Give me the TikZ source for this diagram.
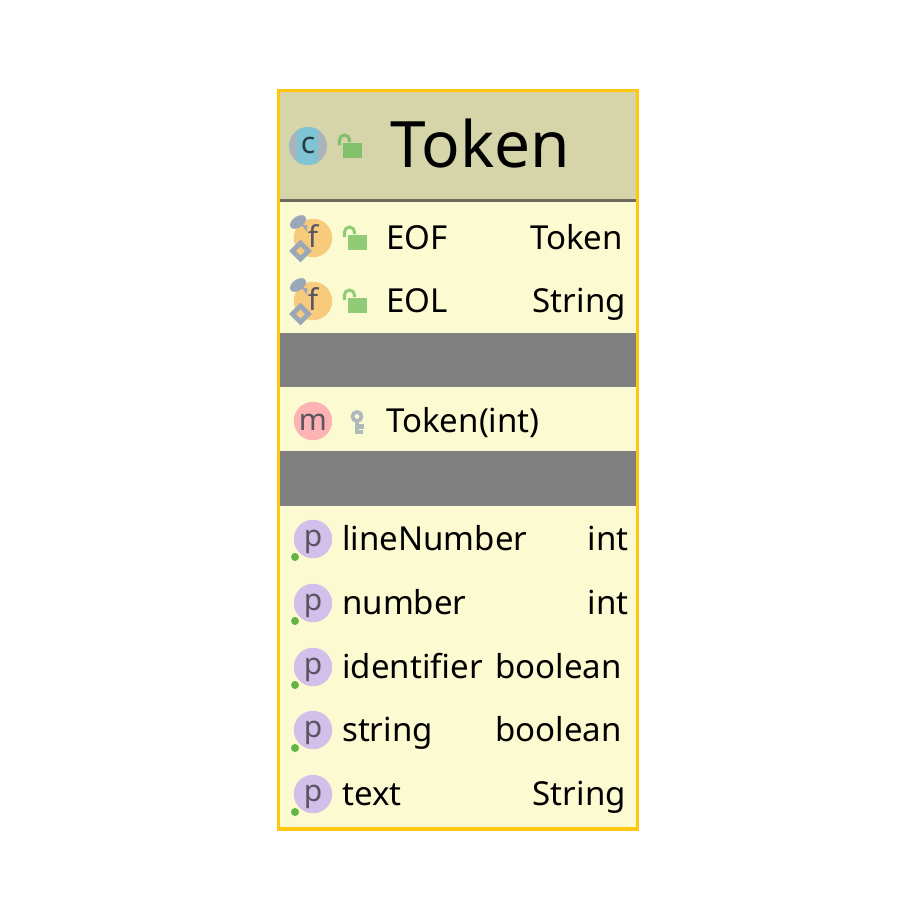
\documentclass[tikz,border=0pt]{standalone}
\usepackage{fontspec}
\setmainfont{Noto Sans}
\definecolor{frameC}{HTML}{FFC70F}
\definecolor{headC}{HTML}{D6D4A9}
\definecolor{ruleC}{HTML}{6B6B60}
\definecolor{rowC}{HTML}{FCFAD1}
\definecolor{bandC}{HTML}{808080}
\definecolor{fieldC}{HTML}{F8CB7C}
\definecolor{methodC}{HTML}{FDB3B3}
\definecolor{propC}{HTML}{D2BFEA}
\definecolor{lockC}{HTML}{90CC78}
\definecolor{lockD}{HTML}{83C06A}
\definecolor{pinC}{HTML}{9AA7B8}
\definecolor{keyC}{HTML}{AEB9BC}
\definecolor{glyphC}{HTML}{5A5560}
\definecolor{tealC}{HTML}{7EC4D4}
\definecolor{sideC}{HTML}{AAB4BA}
\definecolor{dotC}{HTML}{62B543}
\tikzset{
    title/.style =  {anchor=base west,
                    inner sep=0pt,
                    text=black,
                    font=\fontsize{54.6}{60}\selectfont},
    label/.style =  {anchor=base west,
                    inner sep=0pt,
                    text=black,
                    font=\fontsize{28.2}{34}\selectfont},
    kind/.style =   {anchor=base east,
                    inner sep=0pt,
                    text=black,
                    font=\fontsize{28.2}{34}\selectfont},
    badge/.style =  {circle,
                    inner sep=0pt,
                    minimum size=32.8pt,
                    text depth=0pt,
                    text=glyphC,
                    font=\fontsize{25.6}{30}\selectfont},
    field/.style =  {badge,fill=fieldC,text height=17pt},
    method/.style = {badge,fill=methodC,text height=15.4pt},
    prop/.style =   {badge,fill=propC,text height=13.6pt},
    lock/.pic = {
        \fill[pic actions] (0,0) rectangle (18,14);
        \draw[pic actions,fill=none,line width=2.6pt] (-3.5,2) -- (-3.5,-3) arc (180:360:5) -- (6.5,-1);
    },
    pin/.pic = {
        \fill[pinC,rotate=35] (0,0) ellipse (9 and 5.5);
        \fill[pinC] (4,3) -- (9,3) -- (9,10) -- cycle;
        \draw[pinC,line width=4pt,fill=fieldC] (2.5,21) -- (10.5,29) -- (2.5,37) -- (-5.5,29) -- cycle;
    },
}
\begin{document}
\begin{tikzpicture}[x=0.03cm,y=-0.03cm]
    \useasboundingbox (0,0) rectangle (916,916);

    % class box
    \fill[rowC] (279,91) rectangle (637,829);
    \fill[headC] (279,91) rectangle (637,200);
    \fill[ruleC] (279,199) rectangle (637,202);
    \fill[bandC] (279,333) rectangle (637,387);
    \fill[bandC] (279,451) rectangle (637,506);
    \draw[frameC,line width=2.6pt] (278.5,90.5) rectangle (637.5,829);

    % header
    \begin{scope}
        \fill[sideC] (308,146) circle (19);
        \clip (297,120) rectangle (318,170);
        \fill[tealC] (308,146) circle (19);
    \end{scope}
    \node[badge,minimum size=0pt,text height=12pt,text=black!70!tealC] (cIcon) at (308,146) {c};
    \pic[lockD,fill=lockD,draw=lockD] at (343,143) {lock};
    \node[title] (tName) at (390,167.5) {Token};

    % fields
    \foreach \y/\n/\t/\x in {238/EOF/Token/623,301/EOL/String/626}{
        \node[field] (f\n) at (313,\y) {f};
        \pic at (298,\y-16) {pin};
        \pic[lockC,fill=lockC,draw=lockC] at (348,\y-3) {lock};
        \node[label] (n\n) at (386,\y+11.5) {\n};
        \node[kind] (t\n) at (\x,\y+11.5) {\t};
    }

    % constructor
    \node[method] (mCtor) at (313,421) {m};
    \draw[keyC,line width=3.2pt] (357,416.5) circle (4.5);
    \draw[keyC,line width=4pt] (357,422) -- (357,434) (357,426.5) -- (364,426.5) (357,432) -- (363,432);
    \node[label] (nCtor) at (386,432) {Token(int)};

    % properties
    \foreach \y/\n/\t/\x in {539/lineNumber/int/629,603/number/int/629,667/identifier/boolean/622,730/string/boolean/622,794/text/String/626}{
        \node[prop] (p\n) at (313,\y) {p};
        \fill[dotC] (295,\y+18) circle (4);
        \node[label] (n\n) at (342,\y+11.5) {\n};
        \node[kind] (t\n) at (\x,\y+11.5) {\t};
    }
\end{tikzpicture}
\end{document}
